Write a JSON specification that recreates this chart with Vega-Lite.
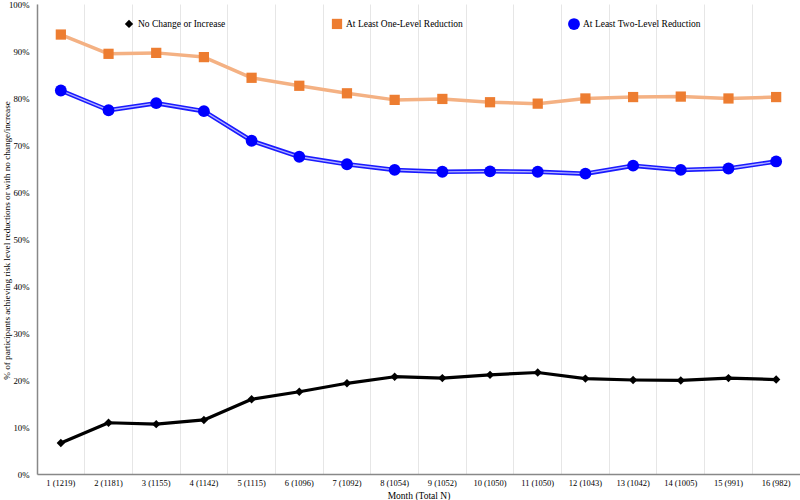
{
  "$schema": "https://vega.github.io/schema/vega-lite/v6.json",
  "width": 763,
  "height": 470,
  "autosize": {"type": "none"},
  "padding": {"left": 37, "top": 4, "right": 0, "bottom": 26},
  "background": "white",
  "config": {
    "view": {"stroke": null},
    "font": "Liberation Serif"
  },
  "data": {
    "values": [
      {"month": "1 (1219)", "series": "No Change or Increase", "value": 0.066},
      {"month": "2 (1181)", "series": "No Change or Increase", "value": 0.109},
      {"month": "3 (1155)", "series": "No Change or Increase", "value": 0.106},
      {"month": "4 (1142)", "series": "No Change or Increase", "value": 0.115},
      {"month": "5 (1115)", "series": "No Change or Increase", "value": 0.159},
      {"month": "6 (1096)", "series": "No Change or Increase", "value": 0.175},
      {"month": "7 (1092)", "series": "No Change or Increase", "value": 0.193},
      {"month": "8 (1054)", "series": "No Change or Increase", "value": 0.207},
      {"month": "9 (1052)", "series": "No Change or Increase", "value": 0.204},
      {"month": "10 (1050)", "series": "No Change or Increase", "value": 0.211},
      {"month": "11 (1050)", "series": "No Change or Increase", "value": 0.216},
      {"month": "12 (1043)", "series": "No Change or Increase", "value": 0.203},
      {"month": "13 (1042)", "series": "No Change or Increase", "value": 0.200},
      {"month": "14 (1005)", "series": "No Change or Increase", "value": 0.199},
      {"month": "15 (991)", "series": "No Change or Increase", "value": 0.204},
      {"month": "16 (982)", "series": "No Change or Increase", "value": 0.201},
      {"month": "1 (1219)", "series": "At Least One-Level Reduction", "value": 0.935},
      {"month": "2 (1181)", "series": "At Least One-Level Reduction", "value": 0.894},
      {"month": "3 (1155)", "series": "At Least One-Level Reduction", "value": 0.896},
      {"month": "4 (1142)", "series": "At Least One-Level Reduction", "value": 0.887},
      {"month": "5 (1115)", "series": "At Least One-Level Reduction", "value": 0.843},
      {"month": "6 (1096)", "series": "At Least One-Level Reduction", "value": 0.826},
      {"month": "7 (1092)", "series": "At Least One-Level Reduction", "value": 0.810},
      {"month": "8 (1054)", "series": "At Least One-Level Reduction", "value": 0.796},
      {"month": "9 (1052)", "series": "At Least One-Level Reduction", "value": 0.798},
      {"month": "10 (1050)", "series": "At Least One-Level Reduction", "value": 0.791},
      {"month": "11 (1050)", "series": "At Least One-Level Reduction", "value": 0.788},
      {"month": "12 (1043)", "series": "At Least One-Level Reduction", "value": 0.799},
      {"month": "13 (1042)", "series": "At Least One-Level Reduction", "value": 0.802},
      {"month": "14 (1005)", "series": "At Least One-Level Reduction", "value": 0.803},
      {"month": "15 (991)", "series": "At Least One-Level Reduction", "value": 0.799},
      {"month": "16 (982)", "series": "At Least One-Level Reduction", "value": 0.802},
      {"month": "1 (1219)", "series": "At Least Two-Level Reduction", "value": 0.816},
      {"month": "2 (1181)", "series": "At Least Two-Level Reduction", "value": 0.774},
      {"month": "3 (1155)", "series": "At Least Two-Level Reduction", "value": 0.789},
      {"month": "4 (1142)", "series": "At Least Two-Level Reduction", "value": 0.772},
      {"month": "5 (1115)", "series": "At Least Two-Level Reduction", "value": 0.709},
      {"month": "6 (1096)", "series": "At Least Two-Level Reduction", "value": 0.675},
      {"month": "7 (1092)", "series": "At Least Two-Level Reduction", "value": 0.659},
      {"month": "8 (1054)", "series": "At Least Two-Level Reduction", "value": 0.647},
      {"month": "9 (1052)", "series": "At Least Two-Level Reduction", "value": 0.643},
      {"month": "10 (1050)", "series": "At Least Two-Level Reduction", "value": 0.644},
      {"month": "11 (1050)", "series": "At Least Two-Level Reduction", "value": 0.643},
      {"month": "12 (1043)", "series": "At Least Two-Level Reduction", "value": 0.639},
      {"month": "13 (1042)", "series": "At Least Two-Level Reduction", "value": 0.656},
      {"month": "14 (1005)", "series": "At Least Two-Level Reduction", "value": 0.647},
      {"month": "15 (991)", "series": "At Least Two-Level Reduction", "value": 0.650},
      {"month": "16 (982)", "series": "At Least Two-Level Reduction", "value": 0.665}
    ]
  },
  "encoding": {
    "x": {
      "field": "month",
      "type": "ordinal",
      "sort": null,
      "scale": {"type": "band", "paddingInner": 0, "paddingOuter": 0},
      "axis": {
        "title": "Month (Total N)",
        "titleFont": "Liberation Serif",
        "titleFontSize": 9.5,
        "titleFontWeight": "normal",
        "titleColor": "#000",
        "titleBaseline": "middle",
        "titleY": 21,
        "labelFont": "Liberation Serif",
        "labelFontSize": 8.5,
        "labelColor": "#000",
        "labelAngle": 0,
        "labelPadding": 4,
        "ticks": false,
        "grid": true,
        "gridColor": "#e6e6e6",
        "gridWidth": 1,
        "bandPosition": 0,
        "domainColor": "#888",
        "domainWidth": 1.5
      }
    },
    "y": {
      "field": "value",
      "type": "quantitative",
      "scale": {"domain": [0, 1]},
      "axis": {
        "title": "% of participants achieving risk level reductions or with no change/increase",
        "titleFont": "Liberation Serif",
        "titleFontSize": 9.2,
        "titleFontWeight": "normal",
        "titleColor": "#000",
        "titleBaseline": "middle",
        "titleX": -31,
        "titleY": 236,
        "labelFont": "Liberation Serif",
        "labelFontSize": 8.8,
        "labelColor": "#000",
        "labelPadding": 8,
        "format": ".0%",
        "values": [0, 0.1, 0.2, 0.3, 0.4, 0.5, 0.6, 0.7, 0.8, 0.9, 1],
        "ticks": false,
        "grid": false,
        "domainColor": "#888",
        "domainWidth": 1.5
      }
    }
  },
  "layer": [
    {
      "mark": {"type": "line", "strokeJoin": "round"},
      "encoding": {
        "detail": {"field": "series", "type": "nominal"},
        "stroke": {
          "condition": [
            {"test": "datum.series === 'At Least One-Level Reduction'", "value": "#f4b183"},
            {"test": "datum.series === 'At Least Two-Level Reduction'", "value": "#1a1aff"}
          ],
          "value": "#000000"
        },
        "strokeWidth": {
          "condition": [
            {"test": "datum.series === 'At Least One-Level Reduction'", "value": 3.5},
            {"test": "datum.series === 'At Least Two-Level Reduction'", "value": 4.5}
          ],
          "value": 3.2
        }
      }
    },
    {
      "transform": [{"filter": "datum.series === 'At Least Two-Level Reduction'"}],
      "mark": {"type": "line", "stroke": "#b3b3ff", "strokeWidth": 1.3},
      "encoding": {}
    },
    {
      "mark": {"type": "point", "filled": true, "opacity": 1},
      "encoding": {
        "color": {
          "field": "series",
          "type": "nominal",
          "scale": {
            "domain": ["No Change or Increase", "At Least One-Level Reduction", "At Least Two-Level Reduction"],
            "range": ["#000000", "#ed7d31", "#0000ff"]
          },
          "legend": {
            "title": null,
            "orient": "none",
            "legendX": 85,
            "legendY": 13,
            "padding": 0,
            "direction": "horizontal",
            "columns": 3,
            "columnPadding": 102,
            "labelFont": "Liberation Serif",
            "labelFontSize": 9.5,
            "labelColor": "#000",
            "labelOffset": 2,
            "labelLimit": 300,
            "symbolOpacity": 1
          }
        },
        "shape": {
          "field": "series",
          "type": "nominal",
          "scale": {
            "domain": ["No Change or Increase", "At Least One-Level Reduction", "At Least Two-Level Reduction"],
            "range": ["diamond", "square", "circle"]
          }
        },
        "size": {
          "field": "series",
          "type": "nominal",
          "scale": {
            "domain": ["No Change or Increase", "At Least One-Level Reduction", "At Least Two-Level Reduction"],
            "range": [70, 140, 100]
          }
        }
      }
    }
  ]
}
